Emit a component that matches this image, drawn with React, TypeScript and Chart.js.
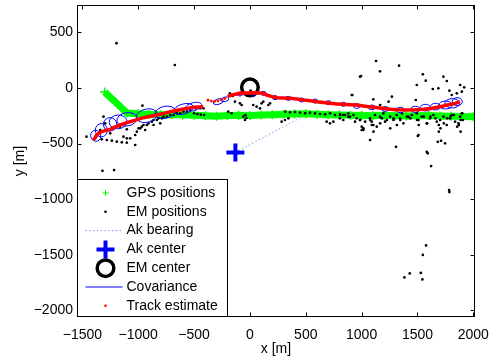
import React, { useEffect, useRef } from 'react';
import { Chart, registerables } from 'chart.js';
Chart.register(...registerables);

const xTicks = [-1500, -1000, -500, 0, 500, 1000, 1500, 2000];
const yTicks = [-2000, -1500, -1000, -500, 0, 500];
const xRange = [-1548, 2015];
const yRange = [-2061, 747];

const legendLabels = ['GPS positions', 'EM positions', 'Ak bearing', 'Ak center', 'EM center', 'Covariance', 'Track estimate'];

const gpsX = [-1300, -1250, -1200, -1150, -1100, -1000, -900, -800, -700, -600, -500, -400, -300, -200, -100, 0, 100, 200, 300, 400, 500, 600, 700, 800, 900, 1000, 1100, 1200, 1300, 1400, 1500, 1600, 1700, 1800, 1900, 2000, 2050];
const gpsY = [-36, -83, -131, -178, -225, -232, -236, -240, -238, -243, -246, -250, -255, -248, -246, -247, -244, -240, -236, -234, -232, -236, -240, -242, -246, -248, -250, -246, -250, -252, -250, -248, -252, -254, -256, -258, -260];

const emPositions: [number, number][] = [
  [-1463, -438], [-1386, -453], [-1326, -462], [-1281, -468], [-1236, -474], [-1192, -483], [-1147, -489], [-1102, -492],
  [-1132, -438], [-1102, -453], [-1072, -453], [-1027, -513],
  [-1311, -258], [-1296, -318], [-1341, -378], [-1221, -363], [-1251, -408], [-1162, -348], [-1102, -372],
  [-1027, -423], [-1012, -393], [-982, -363], [-968, -348], [-953, -333], [-923, -333], [-908, -318], [-878, -303], [-863, -288], [-833, -288], [-818, -273], [-788, -273], [-773, -258], [-743, -258], [-714, -243], [-684, -243], [-654, -228], [-624, -228], [-594, -213], [-564, -213], [-534, -198], [-490, -183], [-445, -183], [-415, -183],
  [-962, -159], [-863, -333], [-803, -318], [-938, -378], [-997, -363],
  [-1194, 403], [-672, 207], [-1320, -745], [-1216, -739],
  [-500, -228], [-470, -234], [-440, -240], [-410, -243],
  [-179, -48], [-155, -72], [-134, -123], [-89, -138], [-74, -153], [0, -48], [6, -24], [30, -153], [60, -168], [90, -183], [105, -138], [120, -123], [165, -153], [180, -138], [-194, -213], [-164, -228], [-59, -258], [-44, -288], [-40, -243], [-30, -270],
  [317, -213], [359, -219], [404, -216], [449, -222], [494, -228], [538, -222], [583, -228], [628, -234], [673, -237], [717, -228], [762, -243], [807, -234], [852, -243],
  [314, -288], [344, -273], [284, -303], [687, -303], [717, -318],
  [806, -273], [836, -243], [881, -258], [926, -243], [956, -273], [986, -288], [1016, -363], [1001, -378], [1031, -303], [1076, -288], [1091, -333], [1106, -393], [1076, -468], [1136, -348], [1166, -318], [1181, -273], [1226, -288], [1256, -363], [1286, -273], [1316, -333], [1346, -288], [1361, -228], [1406, -258], [1436, -273], [1496, -288], [1511, -333], [1556, -258], [1586, -318], [1616, -258], [1661, -273], [1691, -333], [1706, -363], [1691, -393], [1736, -318], [1766, -273], [1796, -258], [1826, -243], [1856, -348], [1886, -288], [1901, -228], [1886, -393], [1871, -333],
  [747, -303], [807, -243], [836, -288], [881, -228], [896, -258], [941, -303], [986, -288], [1001, -348], [1016, -378], [1075, -273], [1090, -303], [1105, -333], [1120, -243], [1165, -258], [1195, -228], [1210, -303], [1255, -258], [1285, -288], [1314, -243], [1344, -273], [1374, -318], [1419, -258], [1449, -243], [1494, -228], [1509, -288], [1538, -258], [1583, -318], [1613, -273], [1643, -243], [1673, -303], [1703, -288], [1733, -258], [1762, -333], [1792, -273], [1807, -243], [1837, -303], [1867, -318], [1882, -258], [1897, -228], [1906, -288], [1509, -423],
  [1166, -153], [1241, -123], [1271, -78], [986, 102], [911, -63],
  [1129, 243], [1165, 150], [1335, 201], [995, 108], [1548, 123], [1574, 66], [1494, 27], [1732, 102], [1763, 63], [1637, -9], [1687, -3], [1786, -24], [1882, 27], [1918, 6], [1897, -33], [1807, -63], [1852, -48], [917, -63], [1105, -102], [1485, -108],
  [1503, -432], [1308, -529], [1583, -574], [1592, -588], [1682, -484], [1711, -475], [1747, -498], [1622, -703], [1783, -919], [1786, -937], [1577, -1417], [1548, -1502], [1431, -1669], [1383, -1705], [1530, -1664], [1544, -1723],
];

const akBearingX = [-130, 470];
const akBearingY = [-580, -258];
const akCenter = [-130, -580];
const emCenter = [0, 6];

// cx, cy, rx, ry, angle(deg)
const covariance: [number, number, number, number, number][] = [
  [-1380, -430, 45, 50, 20], [-1330, -380, 54, 60, 0], [-1252, -327, 60, 60, 0], [-1180, -305, 80, 62, 5],
  [-1102, -282, 90, 60, 10], [-923, -249, 96, 60, 12], [-759, -219, 92, 54, 12], [-594, -189, 90, 45, 15], [-505, -168, 75, 36, 15],
  [-283, -123, 45, 24, 15], [-224, -102, 36, 20, 15], [-89, -54, 24, 18, 0], [30, -57, 24, 18, 0], [120, -48, 24, 18, 0], [225, -87, 24, 18, 0],
  [344, -93, 24, 18, 0], [463, -108, 24, 18, 0], [583, -117, 24, 18, 0], [702, -132, 24, 18, 0], [837, -147, 24, 18, 0],
  [956, -162, 30, 21, 0], [1091, -174, 30, 21, 0], [1211, -189, 33, 21, 0], [1346, -198, 36, 24, 0], [1481, -192, 40, 27, 0],
  [1571, -177, 45, 30, 0], [1661, -168, 45, 30, 0], [1751, -153, 60, 36, 0], [1811, -138, 66, 42, 0], [1856, -123, 45, 36, 0],
];

const trackX1 = [-1401, -1385, -1371, -1350, -1326, -1290, -1251, -1210, -1162, -1120, -1072, -1010, -953, -890, -833, -770, -714, -650, -594, -550, -505, -460, -418];
const trackY1 = [-468, -445, -423, -405, -393, -382, -372, -352, -333, -318, -303, -285, -267, -255, -243, -228, -213, -200, -189, -181, -174, -170, -168];
const trackGapX = [-375, -345, -315, -285, -255, -225];
const trackGapY = [-110, -118, -120, -115, -105, -95];
const trackX2 = [-200, -150, -89, -40, 30, 90, 120, 150, 200, 240, 300, 359, 420, 478, 540, 598, 660, 717, 780, 837, 900, 956, 1030, 1106, 1180, 1256, 1330, 1406, 1480, 1556, 1620, 1676, 1720, 1766, 1810, 1841, 1880];
const trackY2 = [-75, -60, -48, -44, -42, -46, -48, -63, -78, -87, -90, -93, -100, -108, -115, -123, -130, -138, -143, -147, -150, -153, -164, -174, -183, -192, -196, -198, -196, -192, -184, -174, -165, -153, -145, -138, -123];

const FONT = "'Liberation Sans', Arial, Helvetica, sans-serif";
const pts = (xs: number[], ys: number[]) => xs.map((x, i) => ({ x, y: ys[i] }));
const fmt = (v: number) => (v < 0 ? '\u2212' + Math.abs(v) : String(v));

const GREEN = '#00ff00';
const BLUE = '#0000ff';
const RED = '#ff0000';

const framePlugin = {
  id: 'matlabFrame',
  beforeDatasetsDraw(chart: any) {
    chart.$ellDone = false;
  },
  beforeDatasetDraw(chart: any, args: any) {
    const ds = chart.data.datasets[args.index];
    if (!chart.$ellDone && ds.label && String(ds.label).startsWith('Track')) {
      chart.$ellDone = true;
      const { ctx, chartArea, scales } = chart;
      const sx = scales.x, sy = scales.y;
      ctx.save();
      ctx.beginPath();
      ctx.rect(chartArea.left, chartArea.top, chartArea.width, chartArea.height);
      ctx.clip();
      ctx.strokeStyle = BLUE;
      ctx.lineWidth = 1;
      covariance.forEach(([cx, cy, rx, ry, ang]) => {
        const px = sx.getPixelForValue(cx), py = sy.getPixelForValue(cy);
        const prx = Math.abs(sx.getPixelForValue(cx + rx) - px);
        const pry = Math.abs(sy.getPixelForValue(cy + ry) - py);
        ctx.beginPath();
        ctx.ellipse(px, py, prx, pry, (-ang * Math.PI) / 180, 0, 2 * Math.PI);
        ctx.stroke();
      });
      ctx.restore();
    }
  },
  afterDraw(chart: any) {
    const { ctx, chartArea, scales } = chart;
    const sx = scales.x, sy = scales.y;
    const L = Math.round(chartArea.left) + 0.5, R = Math.round(chartArea.right) - 0.5;
    const T = Math.round(chartArea.top) + 0.5, B = Math.round(chartArea.bottom) - 0.5;
    ctx.save();
    ctx.strokeStyle = '#000';
    ctx.lineWidth = 1;
    ctx.strokeRect(L, T, R - L, B - T);
    const tl = 4;
    ctx.beginPath();
    xTicks.forEach((v) => {
      const p = Math.round(sx.getPixelForValue(v)) + 0.5;
      ctx.moveTo(p, B); ctx.lineTo(p, B - tl);
      ctx.moveTo(p, T); ctx.lineTo(p, T + tl);
    });
    yTicks.forEach((v) => {
      const p = Math.round(sy.getPixelForValue(v)) + 0.5;
      ctx.moveTo(L, p); ctx.lineTo(L + tl, p);
      ctx.moveTo(R, p); ctx.lineTo(R - tl, p);
    });
    ctx.stroke();

    // legend
    const lw = 150, lh = 137;
    const lx = L, ly = B - lh;
    ctx.fillStyle = '#fff';
    ctx.fillRect(lx, ly, lw, lh);
    ctx.strokeRect(lx, ly, lw, lh);
    const symX = lx + 28;
    const textX = lx + 49;
    ctx.font = `14px ${FONT}`;
    ctx.textBaseline = 'middle';
    ctx.textAlign = 'left';
    legendLabels.forEach((label, i) => {
      const cy = ly + 13.5 + i * 18.8;
      ctx.save();
      if (i === 0) {
        ctx.strokeStyle = GREEN; ctx.lineWidth = 1;
        ctx.beginPath(); ctx.moveTo(symX - 3, cy); ctx.lineTo(symX + 3, cy); ctx.moveTo(symX, cy - 3); ctx.lineTo(symX, cy + 3); ctx.stroke();
      } else if (i === 1 || i === 6) {
        ctx.fillStyle = i === 1 ? '#000' : RED;
        ctx.beginPath(); ctx.arc(symX, cy, 1.3, 0, 2 * Math.PI); ctx.fill();
      } else if (i === 2) {
        ctx.strokeStyle = '#7070ff'; ctx.lineWidth = 1; ctx.setLineDash([1.2, 2.6]);
        ctx.beginPath(); ctx.moveTo(lx + 8, cy); ctx.lineTo(lx + 45, cy); ctx.stroke();
      } else if (i === 3) {
        ctx.strokeStyle = BLUE; ctx.lineWidth = 4;
        ctx.beginPath(); ctx.moveTo(symX - 9, cy); ctx.lineTo(symX + 9, cy); ctx.moveTo(symX, cy - 9); ctx.lineTo(symX, cy + 9); ctx.stroke();
      } else if (i === 4) {
        ctx.strokeStyle = '#000'; ctx.lineWidth = 3.5;
        ctx.beginPath(); ctx.arc(symX, cy, 8.3, 0, 2 * Math.PI); ctx.stroke();
      } else if (i === 5) {
        ctx.strokeStyle = BLUE; ctx.lineWidth = 1;
        ctx.beginPath(); ctx.moveTo(lx + 8, cy); ctx.lineTo(lx + 45, cy); ctx.stroke();
      }
      ctx.restore();
      ctx.fillStyle = '#000';
      ctx.fillText(label, textX, cy);
    });
    ctx.restore();
  },
};

export default function App() {
  const ref = useRef<HTMLCanvasElement>(null);
  useEffect(() => {
    if (!ref.current) return;
    const font = { family: FONT, size: 14 };
    const chart = new Chart(ref.current, {
      type: 'scatter',
      data: {
        datasets: [
          { label: 'Track estimate A', data: pts(trackX1, trackY1), showLine: true, borderColor: RED, borderWidth: 3.5, pointRadius: 0, order: 1 } as any,
          { label: 'Track estimate gap', data: pts(trackGapX, trackGapY), showLine: false, backgroundColor: RED, pointRadius: 1.4, pointBorderWidth: 0, order: 1 },
          { label: 'Track estimate B', data: pts(trackX2, trackY2), showLine: true, borderColor: RED, borderWidth: 3.5, pointRadius: 0, order: 1 },
          { label: 'Ak center', data: [{ x: akCenter[0], y: akCenter[1] }], pointStyle: 'cross', pointRadius: 9, pointBorderWidth: 4, borderColor: BLUE, backgroundColor: BLUE, order: 2 },
          { label: 'EM center', data: [{ x: emCenter[0], y: emCenter[1] }], pointStyle: 'circle', pointRadius: 8.3, pointBorderWidth: 3.5, borderColor: '#000', backgroundColor: 'rgba(0,0,0,0)', order: 2 },
          { label: 'Ak bearing', data: pts(akBearingX, akBearingY), showLine: true, borderColor: '#7070ff', borderWidth: 1, borderDash: [1.2, 2.6], pointRadius: 0, order: 3 },
          { label: 'EM positions', data: emPositions.map(([x, y]) => ({ x, y })), backgroundColor: '#000', pointRadius: 1.35, pointBorderWidth: 0, order: 4 },
          { label: 'GPS positions', data: pts(gpsX, gpsY), showLine: true, borderColor: GREEN, borderWidth: 7, pointStyle: 'cross', pointRadius: 4.5, pointBorderWidth: 1.5, pointBorderColor: GREEN, order: 5 },
        ],
      },
      options: {
        animation: false,
        responsive: false,
        layout: { autoPadding: false, padding: { left: 0, top: 5, right: 19, bottom: 0 } },
        plugins: { legend: { display: false }, tooltip: { enabled: false } },
        scales: {
          x: {
            type: 'linear', min: xRange[0], max: xRange[1],
            grid: { display: false, drawTicks: false }, border: { display: false },
            afterBuildTicks: (s: any) => { s.ticks = xTicks.map((v) => ({ value: v })); },
            afterFit: (s: any) => { s.height = 41; s.paddingLeft = 0; s.paddingRight = 0; },
            ticks: { font, color: '#000', padding: 10, maxRotation: 0, autoSkip: false, callback: (v: any) => fmt(Number(v)) },
            title: { display: true, text: 'x [m]', font, color: '#000', padding: { top: 0, bottom: 0 } },
          },
          y: {
            type: 'linear', min: yRange[0], max: yRange[1],
            grid: { display: false, drawTicks: false }, border: { display: false },
            afterBuildTicks: (s: any) => { s.ticks = yTicks.map((v) => ({ value: v })); },
            afterFit: (s: any) => { s.width = 77; s.paddingTop = 0; s.paddingBottom = 0; },
            ticks: { font, color: '#000', padding: 4, autoSkip: false, callback: (v: any) => fmt(Number(v)) },
            title: { display: true, text: 'y [m]', font, color: '#000', padding: { top: 12, bottom: 0 } },
          },
        },
      } as any,
      plugins: [framePlugin],
    });
    return () => chart.destroy();
  }, []);
  return (
    <div style={{ position: 'fixed', left: 0, top: 0, width: 494, height: 358, background: '#fff' }}>
      <canvas ref={ref} width={494} height={358} style={{ display: 'block' }} />
    </div>
  );
}
